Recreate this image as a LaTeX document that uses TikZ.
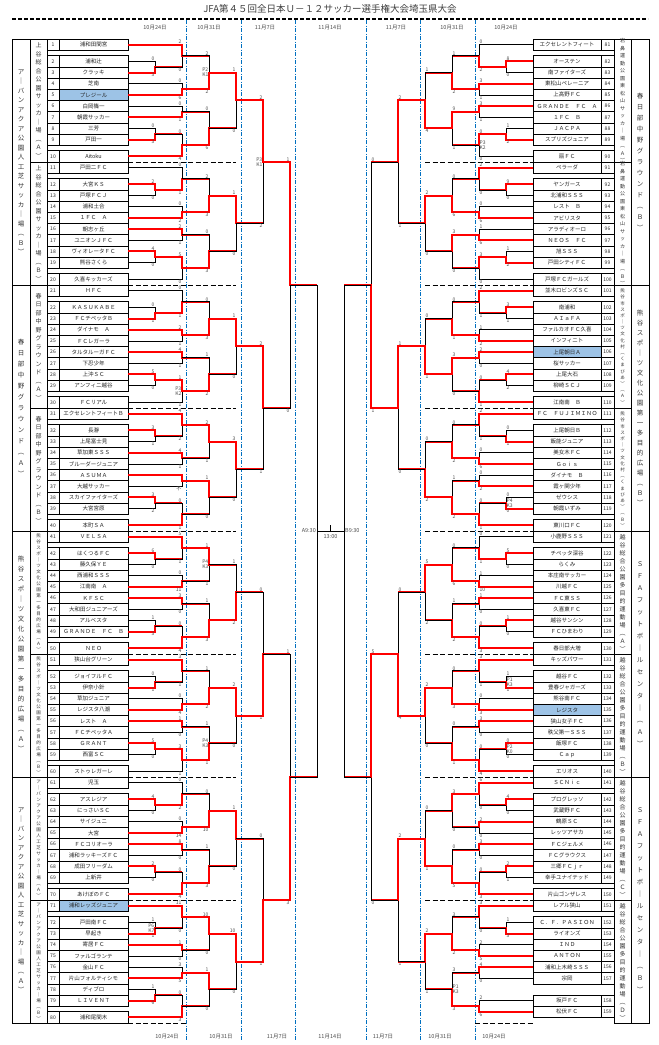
\documentclass[tikz,border=0pt]{standalone}
\usepackage{fontspec}
\setmainfont{Noto Sans CJK JP}
\usetikzlibrary{calc}
\definecolor{hlc}{RGB}{157,195,230}
\definecolor{bluel}{RGB}{0,112,192}
\def\sdL{L}
\tikzset{
 bl/.style={line width=0.7pt,black},
 rd/.style={line width=2pt,red},
 sc/.style={font=\fontsize{5}{5}\selectfont,text=black!70,inner sep=0.5pt},
 scT/.code={\ifx\sd\sdL\pgfkeysalso{anchor=south east}\else\pgfkeysalso{anchor=south west}\fi},
 scB/.code={\ifx\sd\sdL\pgfkeysalso{anchor=north east}\else\pgfkeysalso{anchor=north west}\fi},
 pk/.code={\ifx\sd\sdL\pgfkeysalso{anchor=east}\else\pgfkeysalso{anchor=west}\fi},
 numf/.style={font=\fontsize{5}{5}\selectfont,text=black!85,inner sep=0},
 namef/.style={font=\fontsize{5.5}{6}\selectfont,text=black!85,inner sep=0},
 datef/.style={font=\fontsize{5.5}{6}\selectfont,text=black!70},
 sep/.style={line width=0.7pt,dash pattern=on 5pt off 2.5pt},
 bline/.style={bluel,line width=0.7pt,dash pattern=on 4pt off 1.5pt on 1pt off 1.5pt},
}
\newcommand\M[6]{\Mparse{#1}{#2}{#3}{#4}{#5}#6\relax}
\def\Mparse#1#2#3#4#5#6/#7/#8/#9\relax{%
 \path let \p1=(#2),\p2=(#3),\n1={0.5*(\y1+\y2)} in (#4pt,\n1) coordinate (#1);
 \draw[bl] let \p1=(#2),\p2=(#3) in (\p1) -- (#4pt,\y1) -- (#4pt,\y2) -- (\p2);
 \ifcase#6\relax\or
  \draw[rd] let \p1=(#2),\p3=(#1) in (\x1,\y1) -- (#4pt,\y1) -- (#4pt,\y3) -- (#5pt,\y3);
 \or
  \draw[rd] let \p2=(#3),\p3=(#1) in (\x2,\y2) -- (#4pt,\y2) -- (#4pt,\y3) -- (#5pt,\y3);
 \fi
 \path let \p1=(#2),\p2=(#3) in node[sc,scT] at (#4pt,\y1) {#7} node[sc,scB] at (#4pt,\y2) {#8} node[sc,pk,align=center] at (#1) {#9};
}
\newcommand\Blk[9]{%
 \edef\tA{t\the\numexpr\base+1\relax}\edef\tB{t\the\numexpr\base+2\relax}%
 \edef\tC{t\the\numexpr\base+3\relax}\edef\tD{t\the\numexpr\base+4\relax}%
 \edef\tE{t\the\numexpr\base+5\relax}\edef\tF{t\the\numexpr\base+6\relax}%
 \edef\tG{t\the\numexpr\base+7\relax}\edef\tH{t\the\numexpr\base+8\relax}%
 \edef\tI{t\the\numexpr\base+9\relax}\edef\tJ{t\the\numexpr\base+10\relax}%
 \M{\sd\bs a}{\tB}{\tC}{\xa}{\xb}{#1}
 \M{\sd\bs A}{\tA}{\sd\bs a}{\xb}{\xc}{#2}
 \M{\sd\bs B}{\tD}{\tE}{\xb}{\xc}{#3}
 \M{\sd\bs C}{\tF}{\tG}{\xb}{\xc}{#4}
 \M{\sd\bs d}{\tH}{\tI}{\xa}{\xb}{#5}
 \M{\sd\bs D}{\sd\bs d}{\tJ}{\xb}{\xc}{#6}
 \M{\sd\bs P}{\sd\bs A}{\sd\bs B}{\xc}{\xd}{#7}
 \M{\sd\bs Q}{\sd\bs C}{\sd\bs D}{\xc}{\xd}{#8}
 \M{\sd\bs W}{\sd\bs P}{\sd\bs Q}{\xd}{\xe}{#9}}
\newcommand\rowL[2]{%
 \pgfmathtruncatemacro\hh{(#1==5)||(#1==71)||(#1==106)||(#1==135)}%
 \ifnum\hh=1 \fill[hlc] (59,#2-5.59) rectangle (128,#2+5.59);\fi
 \draw[bl] (47,#2-5.59) rectangle (128,#2+5.59) (59,#2-5.59) -- (59,#2+5.59);
 \node[numf] (n#1) at (53,#2) {#1};
 \node[namef] (m#1) at (93.5,#2) {\csname tn#1\endcsname};
 \coordinate (t#1) at (128,#2);}
\newcommand\rowR[2]{%
 \pgfmathtruncatemacro\hh{(#1==5)||(#1==71)||(#1==106)||(#1==135)}%
 \ifnum\hh=1 \fill[hlc] (533,#2-5.59) rectangle (601,#2+5.59);\fi
 \draw[bl] (533,#2-5.59) rectangle (614,#2+5.59) (601,#2-5.59) -- (601,#2+5.59);
 \node[numf] (n#1) at (607.5,#2) {#1};
 \node[namef] (m#1) at (567,#2) {\csname tn#1\endcsname};
 \coordinate (t#1) at (533,#2);}
\let\vsEnd\relax
\def\vs#1#2\vsEnd{#1\vsB#2\vsEnd}
\def\vsB#1{\ifx#1\vsEnd\else\\#1\expandafter\vsB\fi}
\newcommand\vlab[5]{\node[align=center,inner sep=0,text=black!80,font=\fontsize{#3}{#4}\selectfont] at (#1,#2) {\vs#5\vsEnd};}
\begin{document}
\begin{tikzpicture}[x=1pt,y=-1pt]
\foreach \n [count=\i] in {浦和田間宮,浦和辻,クラッキ,芝南,プレジール,白岡篠一,朝霞サッカー,三芳,戸田一,Aitoku,
戸田二ＦＣ,大宮ＫＳ,戸塚ＦＣＪ,浦和土合,１ＦＣ　Ａ,朝志ヶ丘,ユニオンＪＦＣ,ヴィオレータＦＣ,熊谷さくら,久喜キッカーズ,
ＨＦＣ,ＫＡＳＵＫＡＢＥ,ＦＣチペッタＢ,ダイナモ　Ａ,ＦＣレガーラ,タルタルーガＦＣ,下忍少年,上沖ＳＣ,アンフィニ越谷,ＦＣリアル,
エクセレントフィートＢ,長瀞,上尾富士見,草加東ＳＳＳ,ブルーダージュニア,ＡＳＵＭＡ,大越サッカー,スカイファイターズ,大宮宮原,本町ＳＡ,
ＶＥＬＳＡ,はくつるＦＣ,藤久保ＹＥ,西浦和ＳＳＳ,江南南　Ａ,ＫＦＳＣ,大和田ジュニアーズ,アルベスタ,ＧＲＡＮＤＥ　ＦＣ　Ｂ,ＮＥＯ,
狭山台グリーン,ジョイフルＦＣ,伊奈小針,草加ジュニア,レジスタ八潮,レスト　Ａ,ＦＣチペッタＡ,ＧＲＡＮＴ,西富ＳＣ,ストゥレガーレ,
児玉,アスレジア,にっさいＳＣ,サイジュニ,大宮,ＦＣコリオーラ,浦和ラッキーズＦＣ,成田フリーダム,上新井,あけぼのＦＣ,
浦和レッズジュニア,戸田南ＦＣ,早起き,寄居ＦＣ,ファルゴランテ,金山ＦＣ,片山フォルティシモ,ディブロ,ＬＩＶＥＮＴ,浦和尾間木,
エクセレントフィート,オーステン,南ファイターズ,東松山ペレーニア,上高野ＦＣ,ＧＲＡＮＤＥ　ＦＣ　Ａ,１ＦＣ　Ｂ,ＪＡＣＰＡ,スプリズジュニア,扇ＦＣ,
ペラーダ,ヤンガース,北浦和ＳＳＳ,レスト　Ｂ,アビリスタ,アラディオーロ,ＮＥＯＳ　ＦＣ,旭ＳＳＳ,戸田シティＦＣ,戸塚ＦＣガールズ,
並木ロビンズＳＣ,南浦和,ＡＩａＦＡ,ファルカオＦＣ久喜,インフィニト,上尾朝日Ａ,桜サッカー,上尾大石,柳崎ＳＣＪ,江南南　Ｂ,
ＦＣ　ＦＵＪＩＭＩＮＯ,上尾朝日Ｂ,飯能ジュニア,美女木ＦＣ,Ｇｏｉｓ,ダイナモ　Ｂ,霞ヶ関少年,ゼウシス,朝霞いずみ,東川口ＦＣ,
小鹿野ＳＳＳ,チペッタ深谷,らくみ,本庄南サッカー,川越ＦＣ,ＦＣ東ＳＳ,久喜東ＦＣ,越谷サンシン,ＦＣひまわり,春日部大増,
キッズパワー,越谷ＦＣ,豊春ジャガーズ,熊谷南ＦＣ,レジスタ,狭山女子ＦＣ,秩父第一ＳＳＳ,飯塚ＦＣ,Ｃａｐ,エリオス,
ＳＣＮｉｃ,プログレッソ,武蔵野ＦＣ,鶴原ＳＣ,レッツアサカ,ＦＣジェルメ,ＦＣグラウクス,三郷ＦＣｊｒ,幸手ユナイテッド,片山ゴンザレス,
レアル狭山,Ｃ．Ｆ．ＰＡＳＩＯＮ,ライオンズ,ＩＮＤ,ＡＮＴＯＮ,浦和上木崎ＳＳＳ,宗岡,坂戸ＦＣ,松伏ＦＣ}{\expandafter\xdef\csname tn\i\endcsname{\n}}
\useasboundingbox (0,0) rectangle (659,1045);
\fill[white] (0,0) rectangle (659,1045);
\node[font=\fontsize{9.5}{10}\selectfont,text=black!75] (title) at (330,9) {JFA第４５回全日本Ｕ－１２サッカー選手権大会埼玉県大会};
\draw[line width=1.3pt,dash pattern=on 4pt off 2pt] (12,19) -- (648,19);
\foreach \x/\t in {155/10月24日,209/10月31日,265/11月7日,330/11月14日,396/11月7日,452/10月31日,506/10月24日}{\node[datef] at (\x,28) {\t};}
\foreach \x/\t in {167/10月24日,221/10月31日,277/11月7日,330/11月14日,383/11月7日,440/10月31日,494/10月24日}{\node[datef] at (\x,1037) {\t};}
\foreach \x in {186,241,295,366,420,475}{\draw[bline] (\x,20) -- (\x,1041);}
% separators
\foreach \b in {1,...,7}{\draw[sep] (128,39+123*\b) -- (236,39+123*\b); \draw[sep] (425,39+123*\b) -- (533,39+123*\b);}
\draw[sep] (128,1023) -- (186,1023); \draw[sep] (475,1023) -- (533,1023);
% rows
\foreach \b in {0,...,7}{\foreach \s [count=\i] in {0,1.5,2.5,3.5,4.5,5.5,6.5,7.5,8.5,10}{
 \pgfmathsetmacro\yc{39+123*\b+(\s+0.5)*11.18}\pgfmathtruncatemacro\k{10*\b+\i}\rowL{\k}{\yc}}}
\foreach \b in {0,...,6}{\foreach \s [count=\i] in {0,1.5,2.5,3.5,4.5,5.5,6.5,7.5,8.5,10}{
 \pgfmathsetmacro\yc{39+123*\b+(\s+0.5)*11.18}\pgfmathtruncatemacro\k{80+10*\b+\i}\rowR{\k}{\yc}}}
\foreach \s [count=\i] in {0,1.5,2.5,3.5,4.5,5.5,6.5,8.5,9.5}{
 \pgfmathsetmacro\yc{39+123*7+(\s+0.5)*11.18}\pgfmathtruncatemacro\k{150+\i}\rowR{\k}{\yc}}
% side columns
\foreach \b in {0,...,7}{\draw[bl] (30,39+123*\b) rectangle (47,162+123*\b); \draw[bl] (614,39+123*\b) rectangle (631,162+123*\b);}
\foreach \p in {0,...,3}{\draw[bl] (12,39+246*\p) rectangle (30,285+246*\p); \draw[bl] (631,39+246*\p) rectangle (649,285+246*\p);}
\vlab{21}{162}{6.5}{9.5}{ア｜バンアクア公園人工芝サッカ｜場︵Ｂ︶}
\vlab{21}{408}{6.5}{11}{春日部中野グラウンド︵Ａ︶}
\vlab{21}{654}{6.5}{10}{熊谷スポ｜ツ文化公園第一多目的広場︵Ａ︶}
\vlab{21}{900}{6.5}{9.5}{ア｜バンアクア公園人工芝サッカ｜場︵Ａ︶}
\vlab{38.5}{100.5}{6}{8.5}{上谷総合公園サッカ｜場︵Ａ︶}
\vlab{38.5}{223.5}{6}{8.5}{上谷総合公園サッカ｜場︵Ｂ︶}
\vlab{38.5}{346.5}{6}{8.5}{春日部中野グラウンド︵Ａ︶}
\vlab{38.5}{469.5}{6}{8.5}{春日部中野グラウンド︵Ｂ︶}
\vlab{38.5}{592.5}{4.5}{6}{熊谷スポ｜ツ文化公園第一多目的広場︵Ａ︶}
\vlab{38.5}{715.5}{4.5}{6}{熊谷スポ｜ツ文化公園第一多目的広場︵Ｂ︶}
\vlab{38.5}{838.5}{4.5}{6}{ア｜バンアクア公園人工芝サッカ｜場︵Ａ︶}
\vlab{38.5}{961.5}{4.5}{6}{ア｜バンアクア公園人工芝サッカ｜場︵Ｂ︶}
\vlab{640}{162}{6.5}{11}{春日部中野グラウンド︵Ｂ︶}
\vlab{640}{408}{6.5}{10}{熊谷スポ｜ツ文化公園第一多目的広場︵Ｂ︶}
\vlab{640}{654}{6.5}{12}{ＳＦＡフットボ｜ルセンタ｜︵Ａ︶}
\vlab{640}{900}{6.5}{12}{ＳＦＡフットボ｜ルセンタ｜︵Ｂ︶}
\vlab{622.5}{100.5}{5}{7.5}{岩鼻運動公園東松山サッカ｜場︵Ａ︶}
\vlab{622.5}{223.5}{5}{7.5}{岩鼻運動公園東松山サッカ｜場︵Ｂ︶}
\vlab{622.5}{346.5}{4.5}{6.2}{熊谷市スポ｜ツ文化村︵くまぴあ︶︵Ａ︶}
\vlab{622.5}{469.5}{4.5}{6.2}{熊谷市スポ｜ツ文化村︵くまぴあ︶︵Ｂ︶}
\vlab{622.5}{592.5}{6}{8}{越谷総合公園多目的運動場︵Ａ︶}
\vlab{622.5}{715.5}{6}{8}{越谷総合公園多目的運動場︵Ｂ︶}
\vlab{622.5}{838.5}{6}{8}{越谷総合公園多目的運動場︵Ｃ︶}
\vlab{622.5}{961.5}{6}{8}{越谷総合公園多目的運動場︵Ｄ︶}
% left brackets
\def\sd{L}\def\xa{155}\def\xb{182}\def\xc{209}\def\xd{236}\def\xe{263}
\def\bs{0}\def\base{0}\Blk{2/0/3/}{1/2/0/}{2/0/6/}{2/0/1/}{2/0/3/}{2/0/4/}{2/2/2/P2\\K1}{2/0/6/}{1/1/0/}
\def\bs{1}\def\base{10}\Blk{1/2/0/}{2/0/1/}{2/0/2/}{1/2/1/}{1/4/0/}{1/5/0/}{2/2/3/}{2/0/3/}{1/1/0/}
\def\bs{2}\def\base{20}\Blk{2/0/1/}{2/0/1/}{1/2/1/}{1/4/1/}{1/5/0/}{1/1/1/P3\\K2}{2/0/3/}{2/1/2/}{1/1/0/}
\def\bs{3}\def\base{30}\Blk{1/3/1/}{1/4/2/}{1/4/1/}{1//不/}{1/3/2/}{2/0/1/}{1/2/1/}{1/1/0/}{1/3/0/}
\def\bs{4}\def\base{40}\Blk{1/6/0/}{1/5/1/}{2/0/11/}{1/3/0/}{2/1/3/}{2/0/4/}{1/1/1/P4\\K3}{2/1/3/}{2/1/2/}
\def\bs{5}\def\base{50}\Blk{2/0/1/}{1/3/1/}{2/0/4/}{1/1/0/}{1/5/0/}{1/3/1/}{2/1/2/}{2/1/1/P4\\K3}{1/2/0/}
\def\bs{6}\def\base{60}\Blk{1/4/0/}{2/0/2/}{2/0/14/}{1/8/0/}{1/2/0/}{2/0/4/}{2/0/10/}{2/1/3/}{1/1/0/}
\def\bs{7}\def\base{70}\Blk{2/1/1/P6\\K7}{1/11/0/}{1/1/0/}{2/3/5/}{2/1/6/}{2/0/3/}{1/10/0/}{1/1/0/}{1/10/0/}
\M{LQ0}{L0W}{L1W}{263}{290}{1/2/2/P3\\K1}
\M{LQ1}{L2W}{L3W}{263}{290}{1/2/1/}
\M{LQ2}{L4W}{L5W}{263}{290}{2/0/1/}
\M{LQ3}{L6W}{L7W}{263}{290}{2/0/1/}
\M{LS0}{LQ0}{LQ1}{290}{317}{1/1/0/}
\M{LS1}{LQ2}{LQ3}{290}{317}{2/1/3/}
\M{LF}{LS0}{LS1}{317}{317}{0///}
% right brackets
\def\sd{R}\def\xa{506}\def\xb{479}\def\xc{452}\def\xd{425}\def\xe{398}
\def\bs{0}\def\base{80}\Blk{1/8/0/}{2/0/2/}{1/3/1/}{1/3/1/}{2/1/2/}{1/0/0/P3\\K2}{2/1/2/}{1/9/1/}{2/1/4/}
\def\bs{1}\def\base{90}\Blk{1/9/0/}{1/2/0/}{2/0/6/}{2/1/6/}{2/1/2/}{1/3/0/}{2/0/6/}{1/3/0/}{1/2/0/}
\def\bs{2}\def\base{100}\Blk{1/3/1/}{1/2/1/}{2/1/2/}{1/2/0/}{1/4/2/}{2/0/1/}{2/0/1/}{1/3/0/}{2/0/1/}
\def\bs{3}\def\base{110}\Blk{2/0/1/}{1/2/1/}{2/0/6/}{2/0/2/}{2/0/0/P4\\K3}{2/0/1/}{2/0/2/}{2/1/2/}{2/0/2/}
\def\bs{4}\def\base{120}\Blk{1/5/0/}{2/0/1/}{2/1/10/}{1/1/0/}{1/1/0/}{2/0/3/}{2/0/6/}{2/1/2/}{1/5/2/}
\def\bs{5}\def\base{130}\Blk{2/1/1/P1\\K3}{1/3/1/}{2/0/3/}{1/3/0/}{1/0/0/P2\\K0}{2/0/4/}{2/0/3/}{2/0/1/}{1/2/0/}
\def\bs{6}\def\base{140}\Blk{1/4/0/}{1/6/0/}{1/2/0/}{1/3/0/}{1/2/1/}{2/0/3/}{1/3/0/}{2/0/5/}{2/0/1/}
\M{R7a}{t152}{t153}{506}{479}{2/1/3/}
\M{R7A}{t151}{R7a}{479}{452}{1/3/0/}
\M{R7B}{t154}{t155}{479}{452}{2/2/5/}
\M{R7C}{t156}{t157}{479}{452}{1/4/0/}
\M{R7D}{t158}{t159}{479}{452}{2/2/6/}
\M{R7P}{R7A}{R7B}{452}{425}{2/3/2/}
\M{R7Q}{R7C}{R7D}{452}{425}{2/3/3/P1\\K3}
\M{R7W}{R7P}{R7Q}{425}{398}{1/2/1/}
\M{RQ0}{R0W}{R1W}{398}{371}{1/2/1/}
\M{RQ1}{R2W}{R3W}{398}{371}{1/1/0/}
\M{RQ2}{R4W}{R5W}{398}{371}{2/0/4/}
\M{RQ3}{R6W}{R7W}{398}{371}{1/2/1/}
\M{RS0}{RQ0}{RQ1}{371}{344}{2/0/1/}
\M{RS1}{RQ2}{RQ3}{371}{344}{1/5/0/}
\M{RF}{RS0}{RS1}{344}{344}{0///}
% final
\coordinate (fm) at ($(LF)!0.5!(RF)$);
\draw[bl] (LF) -- (RF) (fm) -- ++(0,-6);
\node[datef,anchor=east,inner sep=1pt] (ta) at (LF) {A9:30};
\node[datef,anchor=west,inner sep=1pt] (tb) at (RF) {B9:30};
\node[datef,anchor=north] (tc) at (fm) {13:00};
\end{tikzpicture}
\end{document}
